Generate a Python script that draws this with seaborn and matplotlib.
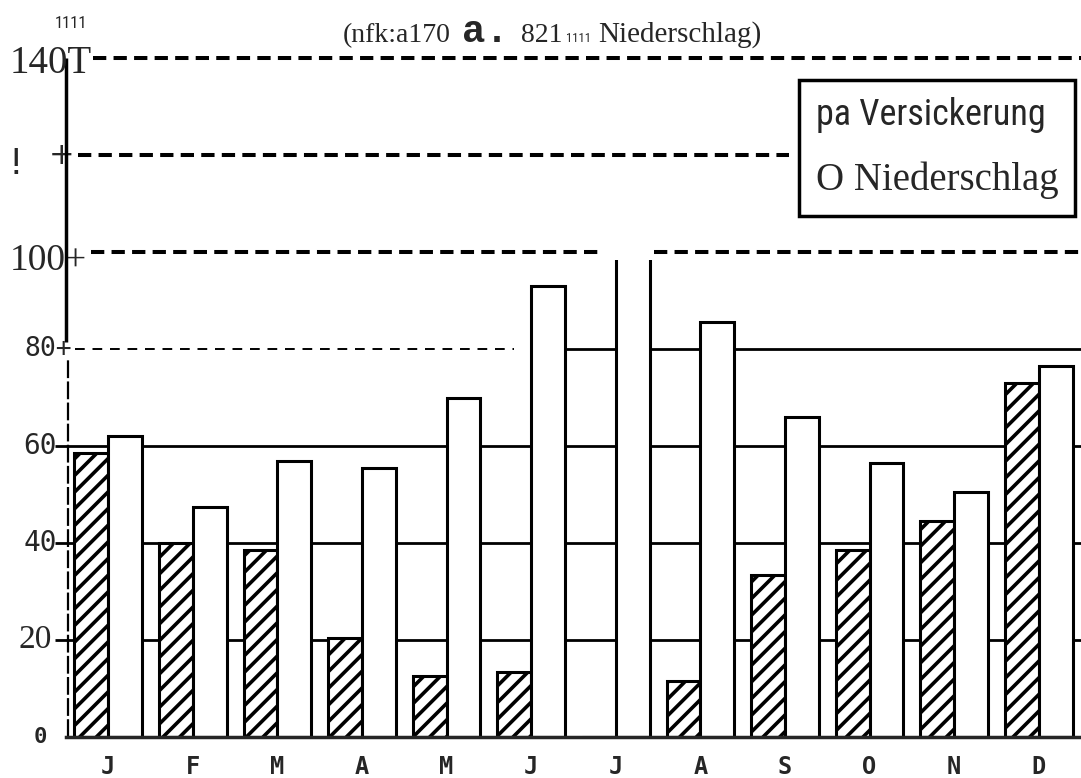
import matplotlib
matplotlib.use('Agg')
import matplotlib.pyplot as plt
import matplotlib.font_manager as fm
from matplotlib.patches import Patch
import seaborn as sns
import pandas as pd

# monthly values in mm
months = ['Jan', 'Feb', 'Mar', 'Apr', 'May', 'Jun', 'Jul', 'Aug', 'Sep', 'Oct', 'Nov', 'Dec']
month_labels = ['J', 'F', 'M', 'A', 'M', 'J', 'J', 'A', 'S', 'O', 'N', 'D']
versickerung = [58.5, 40.0, 38.5, 20.5, 12.5, 13.5, 0.0, 11.5, 33.5, 38.5, 44.5, 73.0]
niederschlag = [62.0, 47.5, 57.0, 55.5, 70.0, 93.0, 125.0, 85.5, 66.0, 56.5, 50.5, 76.5]
series = ['Versickerung', 'Niederschlag']
legend_labels = ['pa Versickerung', 'O Niederschlag']

df = pd.DataFrame({'Monat': months * 2,
                   'Reihe': [series[0]] * 12 + [series[1]] * 12,
                   'mm': versickerung + niederschlag})

sns.set_style('white')
names = {f.name for f in fm.fontManager.ttflist}

def pick(cands, default):
    for c in cands:
        if c in names:
            return c
    return default

narrow = pick(['Liberation Sans Narrow', 'Roboto Condensed', 'Open Sans Condensed',
               'Noto Sans Condensed'], 'Roboto')
plt.rcParams['font.family'] = ['DejaVu Sans']
plt.rcParams['hatch.linewidth'] = 2.6
plt.rcParams['hatch.color'] = 'black'

W, H = 1081, 778
fig = plt.figure(figsize=(W / 100, H / 100), dpi=100)
ax = fig.add_axes([66 / W, 41 / H, 1015 / W, 140.5 * 4.85 / H])

def fx(x):
    return x / W

def fy(y):
    return 1 - y / H

def ax_x(x):
    return (x - 66) / 1015

# grid lines behind the bars
for v in [20, 40, 60]:
    ax.axhline(v, color='black', lw=2.0, zorder=1)
ax.hlines(80, -0.39, 4.8, color='black', lw=1.4, linestyles=(0, (5, 4)), zorder=1)
ax.hlines(80, 5.0, 11.5, color='black', lw=2.0, zorder=1)

sns.barplot(data=df, x='Monat', y='mm', hue='Reihe', order=months, hue_order=series,
            palette=['white', 'white'], saturation=1, edgecolor='black', linewidth=2.2,
            width=0.8, legend=False, ax=ax, zorder=2)
for bar in ax.containers[0]:
    bar.set_hatch('//')

# upper part of the sheet is re-drawn: bars cut off below the 100 line
ax.axhspan(98.3, 145, color='white', lw=0, zorder=3)
dash = (0, (3.3, 1.8))
ax.hlines(140, -0.18, 11.5, color='black', lw=2.9, linestyles=dash, zorder=4)
ax.hlines(120, -0.36, 8.05, color='black', lw=2.9, linestyles=dash, zorder=4)
ax.hlines(100, -0.2, 5.8, color='black', lw=2.9, linestyles=dash, zorder=4)
ax.hlines(100, 6.45, 11.5, color='black', lw=2.9, linestyles=dash, zorder=4)

# left axis line: solid on top, broken below 80
ax.vlines(-0.5, 81.5, 140, color='black', lw=2.5, zorder=4, clip_on=False)
ax.vlines(-0.48, 0, 78, color='black', lw=1.6, linestyles=(0, (8, 1.5)), zorder=4, clip_on=False)

ax.set_xlim(-0.5, 11.5)
ax.set_ylim(0, 140.5)
ax.set_xlabel('')
ax.set_ylabel('')
for s in ['left', 'top', 'right']:
    ax.spines[s].set_visible(False)
ax.spines['bottom'].set_linewidth(2.5)
ax.spines['bottom'].set_zorder(5)

ax.set_xticks(range(12))
ax.set_xticklabels(month_labels, fontfamily='DejaVu Sans Mono', fontweight='bold', fontsize=17)
ax.set_xticks([i - 0.5 for i in range(13)], minor=True)
ax.tick_params(axis='x', which='major', length=0, pad=13)
ax.tick_params(axis='x', which='minor', direction='inout', length=10, width=2, color='black')
ax.set_yticks([20, 40, 60])
ax.set_yticklabels([])
ax.tick_params(axis='y', which='major', left=True, direction='out', length=8, width=2, color='black')

# y tick labels, each one drawn in its own type as on the sheet
yt = ax.get_yaxis_transform()
ax.text(ax_x(10), 136.9, '140T', transform=yt, family='Liberation Serif',
        fontsize=28, ha='left', va='baseline', zorder=6, clip_on=False)
ax.text(ax_x(8), 116.0, '!', transform=yt, family='DejaVu Sans', fontsize=26,
        ha='left', va='baseline', clip_on=False)
ax.text(ax_x(62), 120, '+', transform=yt, family='DejaVu Sans', fontsize=22,
        ha='center', va='center', clip_on=False)
ax.text(ax_x(10), 96.3, '100+', transform=yt, family='Liberation Serif',
        fontsize=27, ha='left', va='baseline', clip_on=False)
ax.text(ax_x(72), 80, '80+', transform=yt, family='DejaVu Sans Mono', fontsize=19,
        ha='right', va='center', clip_on=False)
for v in [60, 40]:
    ax.text(ax_x(57), v, str(v), transform=yt, family='DejaVu Sans Mono', fontsize=20,
            ha='right', va='center', clip_on=False)
ax.text(ax_x(52), 20, '20', transform=yt, family='Liberation Serif', fontsize=24,
        ha='right', va='center', clip_on=False)
ax.text(ax_x(47), 0, '0', transform=yt, family='DejaVu Sans Mono', fontweight='bold',
        fontsize=16, ha='right', va='center', clip_on=False)

# header line of the scan
fig.text(fx(55), fy(28), '1111', family=narrow, fontsize=12, ha='left', va='baseline')
fig.text(fx(343), fy(42), '(nfk:a170', family='Liberation Serif', fontsize=20, va='baseline')
fig.text(fx(462), fy(42), 'a.', family='Liberation Mono', fontweight='bold', fontsize=28, va='baseline')
fig.text(fx(521), fy(42), '821', family='Liberation Serif', fontsize=20, va='baseline')
fig.text(fx(566), fy(42), '1111', family=narrow, fontsize=9, va='baseline')
fig.text(fx(598), fy(42), 'Niederschlag)', family='Liberation Serif', fontsize=21, va='baseline')

# legend box
handles = [Patch(visible=False), Patch(visible=False)]
leg = ax.legend(handles, legend_labels, loc='upper right', bbox_to_anchor=(fx(1075), fy(80)),
                bbox_transform=fig.transFigure, frameon=True, fancybox=False, framealpha=1,
                edgecolor='black', handlelength=0, handletextpad=0, borderpad=1.2,
                labelspacing=2.1, borderaxespad=0, fontsize=10)
leg.get_frame().set_linewidth(2.5)
leg.set_zorder(7)
t1, t2 = leg.get_texts()
t1.set_fontfamily(narrow)
t1.set_fontsize(26)
t2.set_fontfamily('Liberation Serif')
t2.set_fontsize(28)

fig.savefig('out.png', dpi=100, facecolor='white')
